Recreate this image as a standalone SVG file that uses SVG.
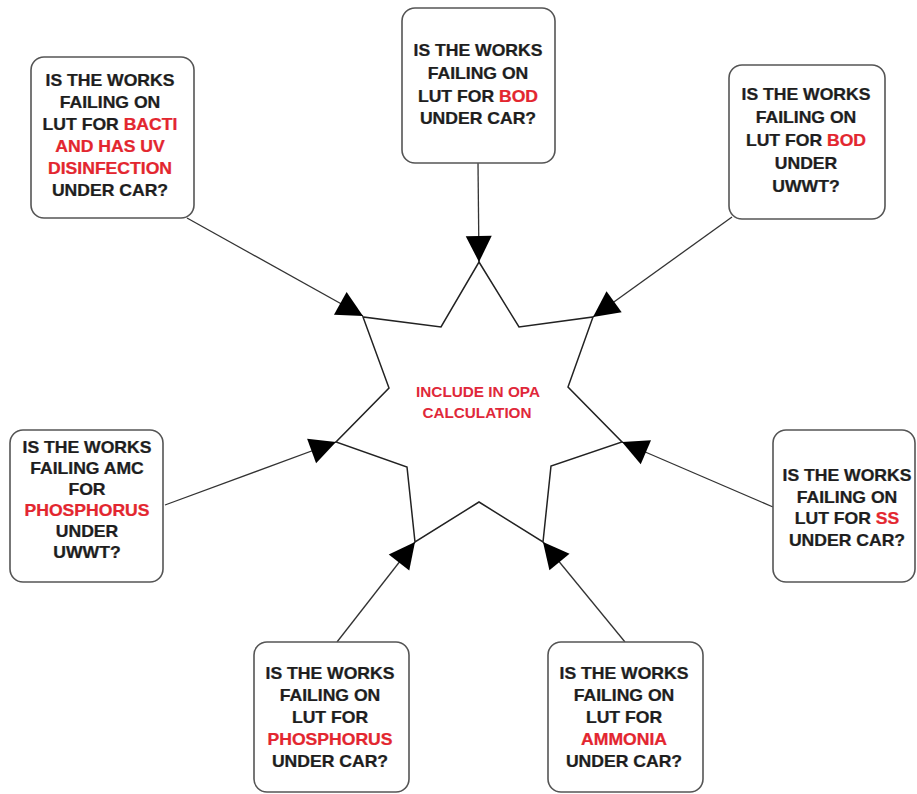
<svg xmlns="http://www.w3.org/2000/svg" width="917" height="794" viewBox="0 0 917 794">
<defs>
<style>
.box{fill:#fff;stroke:#555;stroke-width:1.6}
.t{font-family:"Liberation Sans",Arial,sans-serif;font-weight:bold;font-size:16px;fill:#1e1e1e;stroke:#1e1e1e;stroke-width:0.25;text-anchor:middle}
.r{fill:#e3262f;stroke:#e3262f}
.c{stroke:#333;stroke-width:1.3;fill:none;marker-end:url(#ah)}
.star{fill:#fff;stroke:#222;stroke-width:1.5}
.st{font-family:"Liberation Sans",Arial,sans-serif;font-weight:bold;font-size:14px;fill:#e0283a;text-anchor:middle}
</style>
<marker id="ah" markerUnits="userSpaceOnUse" markerWidth="30" markerHeight="30" viewBox="-28 -15 30 30" refX="0" refY="0" orient="auto">
<path d="M0,0 L-26,-13 L-26,13 Z" fill="#000"/>
</marker>
</defs>
<rect width="917" height="794" fill="#fff"/>

<g id="center">
<polygon class="star" points="479,262 519,327 593,317 568,387 622,442 551,466 543,542 479,502 415,542 407,467 336,442 389,388 363,317 441,327"/>
<text class="st" x="478" y="397" textLength="124" lengthAdjust="spacingAndGlyphs">INCLUDE IN OPA</text>
<text class="st" x="477" y="418" textLength="109" lengthAdjust="spacingAndGlyphs">CALCULATION</text>
</g>

<g id="connectors">
<line class="c" x1="187" y1="218" x2="363" y2="316"/>
<line class="c" x1="478" y1="163" x2="479" y2="262"/>
<line class="c" x1="732" y1="217" x2="593" y2="317"/>
<line class="c" x1="165" y1="505" x2="336" y2="442"/>
<line class="c" x1="773" y1="507" x2="622" y2="442"/>
<line class="c" x1="337" y1="642" x2="415" y2="542"/>
<line class="c" x1="625" y1="642" x2="543" y2="542"/>
</g>

<g id="n-bacti">
<rect class="box" x="31" y="57" width="163" height="161" rx="13"/>
<g transform="translate(110,0) scale(1.1,1)">
<text class="t" x="0" y="86">IS THE WORKS</text>
<text class="t" x="0" y="108">FAILING ON</text>
<text class="t" x="0" y="130">LUT FOR <tspan class="r">BACTI</tspan></text>
<text class="t" x="0" y="152"><tspan class="r">AND HAS UV</tspan></text>
<text class="t" x="0" y="174"><tspan class="r">DISINFECTION</tspan></text>
<text class="t" x="0" y="196">UNDER CAR?</text>
</g>
</g>

<g id="n-bod-car">
<rect class="box" x="402" y="8" width="153" height="155" rx="13"/>
<g transform="translate(478,0) scale(1.1,1)">
<text class="t" x="0" y="56">IS THE WORKS</text>
<text class="t" x="0" y="79">FAILING ON</text>
<text class="t" x="0" y="102">LUT FOR <tspan class="r">BOD</tspan></text>
<text class="t" x="0" y="124">UNDER CAR?</text>
</g>
</g>

<g id="n-bod-uwwt">
<rect class="box" x="729" y="65" width="156" height="154" rx="13"/>
<g transform="translate(806,0) scale(1.1,1)">
<text class="t" x="0" y="100">IS THE WORKS</text>
<text class="t" x="0" y="123">FAILING ON</text>
<text class="t" x="0" y="146">LUT FOR <tspan class="r">BOD</tspan></text>
<text class="t" x="0" y="169">UNDER</text>
<text class="t" x="0" y="192">UWWT?</text>
</g>
</g>

<g id="n-amc">
<rect class="box" x="10" y="430" width="153" height="152" rx="13"/>
<g transform="translate(87,0) scale(1.1,1)">
<text class="t" x="0" y="453">IS THE WORKS</text>
<text class="t" x="0" y="474">FAILING AMC</text>
<text class="t" x="0" y="495">FOR</text>
<text class="t" x="0" y="516"><tspan class="r">PHOSPHORUS</tspan></text>
<text class="t" x="0" y="537">UNDER</text>
<text class="t" x="0" y="558">UWWT?</text>
</g>
</g>

<g id="n-ss">
<rect class="box" x="773" y="430" width="142" height="152" rx="13"/>
<g transform="translate(847,0) scale(1.1,1)">
<text class="t" x="0" y="481">IS THE WORKS</text>
<text class="t" x="0" y="503">FAILING ON</text>
<text class="t" x="0" y="524">LUT FOR <tspan class="r">SS</tspan></text>
<text class="t" x="0" y="546">UNDER CAR?</text>
</g>
</g>

<g id="n-phos-car">
<rect class="box" x="254" y="642" width="155" height="150" rx="13"/>
<g transform="translate(330,0) scale(1.1,1)">
<text class="t" x="0" y="679">IS THE WORKS</text>
<text class="t" x="0" y="701">FAILING ON</text>
<text class="t" x="0" y="723">LUT FOR</text>
<text class="t" x="0" y="745"><tspan class="r">PHOSPHORUS</tspan></text>
<text class="t" x="0" y="767">UNDER CAR?</text>
</g>
</g>

<g id="n-ammonia">
<rect class="box" x="548" y="642" width="155" height="150" rx="13"/>
<g transform="translate(624,0) scale(1.1,1)">
<text class="t" x="0" y="679">IS THE WORKS</text>
<text class="t" x="0" y="701">FAILING ON</text>
<text class="t" x="0" y="723">LUT FOR</text>
<text class="t" x="0" y="745"><tspan class="r">AMMONIA</tspan></text>
<text class="t" x="0" y="767">UNDER CAR?</text>
</g>
</g>
</svg>
